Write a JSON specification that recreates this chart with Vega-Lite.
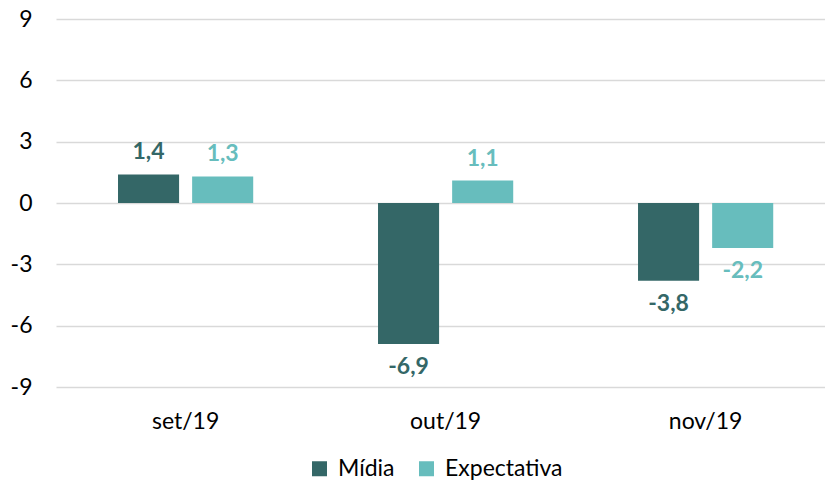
{
  "$schema": "https://vega.github.io/schema/vega-lite/v6.json",
  "autosize": "none",
  "width": 769,
  "height": 368,
  "padding": {"left": 56, "top": 19, "right": 0, "bottom": 101},
  "background": "white",
  "config": {
    "view": {"stroke": null},
    "font": "Lato",
    "locale": {"number": {"decimal": ",", "thousands": ".", "grouping": [3], "currency": ["R$", ""], "minus": "-"}}
  },
  "data": {
    "values": [
      {"mes": "set/19", "serie": "Mídia", "valor": 1.4},
      {"mes": "set/19", "serie": "Expectativa", "valor": 1.3},
      {"mes": "out/19", "serie": "Mídia", "valor": -6.9},
      {"mes": "out/19", "serie": "Expectativa", "valor": 1.1},
      {"mes": "nov/19", "serie": "Mídia", "valor": -3.8},
      {"mes": "nov/19", "serie": "Expectativa", "valor": -2.2}
    ]
  },
  "encoding": {
    "x": {
      "field": "mes", "type": "nominal", "sort": ["set/19", "out/19", "nov/19"],
      "scale": {"paddingInner": 0.48, "paddingOuter": 0.2188, "align": 0.545},
      "axis": {"title": null, "domain": false, "ticks": false, "labelAngle": 0, "labelFontSize": 23, "labelColor": "#000000", "labelPadding": 23, "labelFont": "Lato"}
    },
    "xOffset": {
      "field": "serie", "type": "nominal", "sort": ["Mídia", "Expectativa"],
      "scale": {"paddingInner": 0.176, "paddingOuter": 0}
    },
    "y": {
      "field": "valor", "type": "quantitative",
      "scale": {"domain": [-9, 9], "nice": false, "zero": false},
      "axis": {"title": null, "values": [-9, -6, -3, 0, 3, 6, 9], "format": "d", "domain": false, "ticks": false, "labelFontSize": 23, "labelColor": "#000000", "labelPadding": 24, "gridColor": "#d9d9d9", "gridWidth": 1.5}
    },
    "color": {
      "field": "serie", "type": "nominal", "sort": ["Mídia", "Expectativa"],
      "scale": {"domain": ["Mídia", "Expectativa"], "range": ["#346767", "#67bdbd"]},
      "legend": {"title": null, "orient": "none", "legendX": 252, "legendY": 438, "direction": "horizontal", "symbolType": "square", "symbolSize": 225, "symbolStrokeWidth": 0, "labelFontSize": 23, "labelColor": "#000000", "labelOffset": 7, "columnPadding": 20, "labelLimit": 300}
    }
  },
  "layer": [
    {"mark": {"type": "bar"}},
    {
      "transform": [{"filter": "datum.valor >= 0"}],
      "mark": {"type": "text", "baseline": "middle", "dy": -22, "fontSize": 23, "fontWeight": "bold"},
      "encoding": {"text": {"field": "valor", "type": "quantitative", "format": ".1f"}}
    },
    {
      "transform": [{"filter": "datum.valor < 0"}],
      "mark": {"type": "text", "baseline": "middle", "dy": 23, "fontSize": 23, "fontWeight": "bold"},
      "encoding": {"text": {"field": "valor", "type": "quantitative", "format": ".1f"}}
    }
  ]
}
